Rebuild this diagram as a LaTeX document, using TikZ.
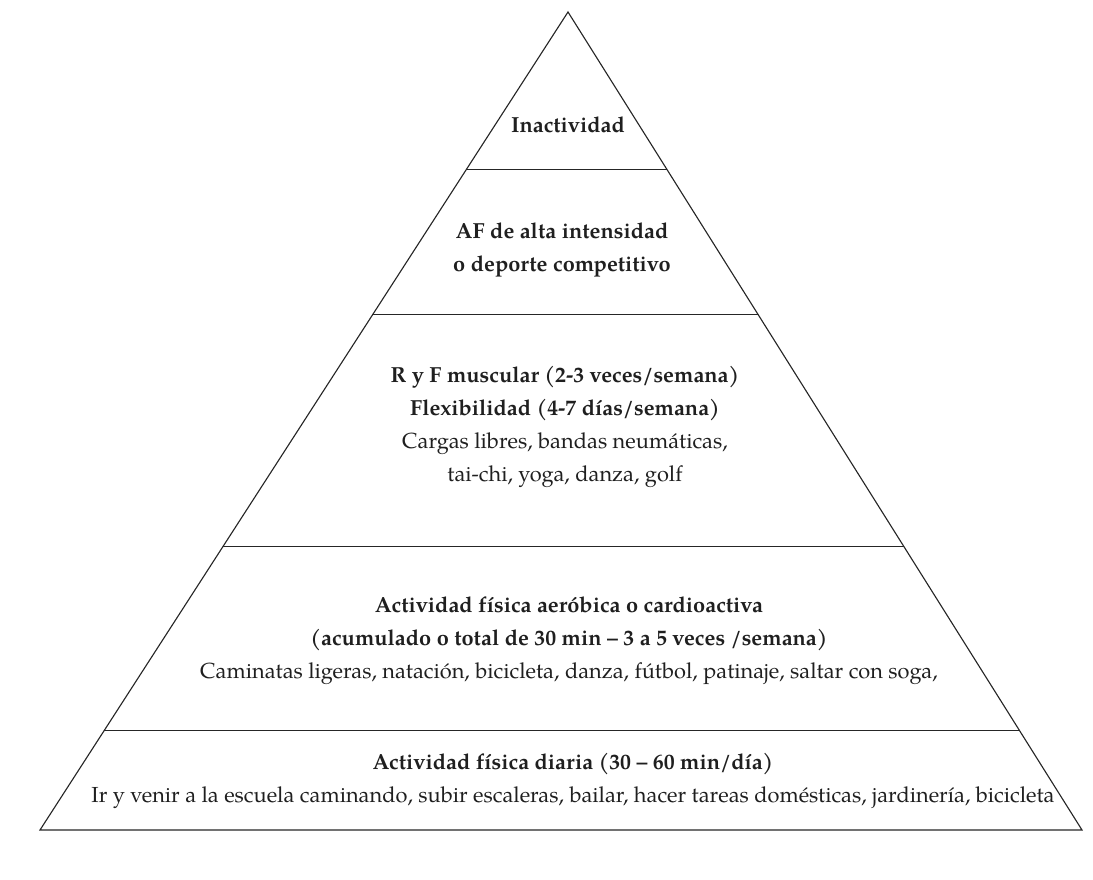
\documentclass[tikz,border=0pt]{standalone}
\usepackage{fontspec}
\setmainfont{TeX Gyre Pagella}
\usetikzlibrary{calc}
\begin{document}
\begin{tikzpicture}[x=0.025cm,y=-0.025cm]
  \tikzset{
    level/.style={align=center,inner sep=0pt,text=black!88,font=\fontsize{15.5}{23.5}\selectfont},
    edge/.style={line width=0.8pt,black!85}
  }
  \useasboundingbox (0,0) rectangle (1093,880);

  % outline of the pyramid
  \coordinate (apex) at (568,12);
  \coordinate (bl) at (40,830);
  \coordinate (br) at (1082,830);
  \draw[edge] (bl) -- (apex) -- (br) -- cycle;

  % dividing lines
  \foreach \t/\n in {0.193/a,0.370/b,0.653/c,0.878/d}{
    \coordinate (l\n) at ($(apex)!\t!(bl)$);
    \coordinate (r\n) at ($(apex)!\t!(br)$);
    \draw[edge] (l\n) -- (r\n);
  }

  \node[level] (inact) at (568,125) {\textbf{Inactividad}};
  \node[level] (alta) at (562,250) {\textbf{AF de alta intensidad}\\\textbf{o deporte competitivo}};
  \node[level] (fuerza) at (565,427) {\textbf{R y F muscular (2-3 veces/semana)}\\
    \textbf{Flexibilidad (4-7 días/semana)}\\
    Cargas libres, bandas neumáticas,\\
    tai-chi, yoga, danza, golf};
  \node[level] (aerob) at (569,641) {\textbf{Actividad física aeróbica o cardioactiva}\\
    \textbf{(acumulado o total de 30 min – 3 a 5 veces /semana)}\\
    Caminatas ligeras, natación, bicicleta, danza, fútbol, patinaje, saltar con soga,};
  \node[level] (diaria) at (573,781) {\textbf{Actividad física diaria (30 – 60 min/día)}\\
    Ir y venir a la escuela caminando, subir escaleras, bailar, hacer tareas domésticas, jardinería, bicicleta};
\end{tikzpicture}
\end{document}
